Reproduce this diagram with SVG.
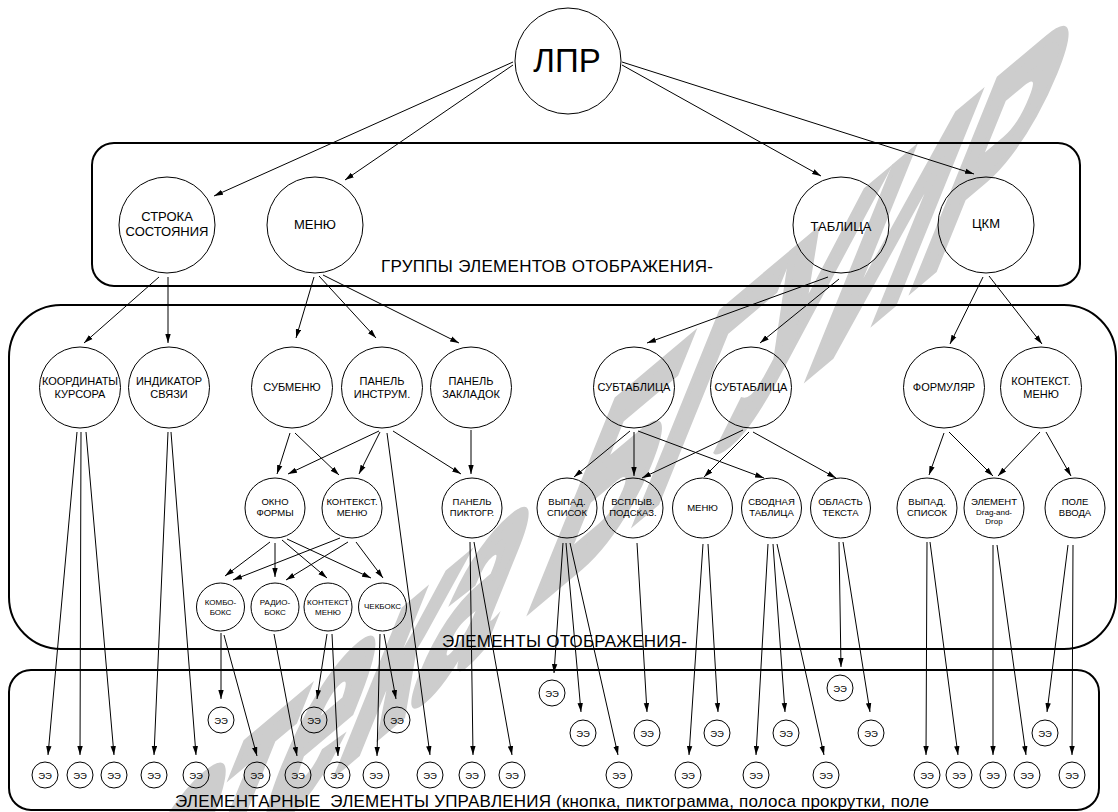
<svg xmlns="http://www.w3.org/2000/svg" width="1118" height="812" viewBox="0 0 1118 812">
<style>
.c{fill:none;stroke:#000;stroke-width:1}
.b{fill:none;stroke:#000;stroke-width:2}
#edges line{stroke:#000;stroke-width:1;marker-end:url(#ah)}
text{font-family:"Liberation Sans",Arial,sans-serif;text-anchor:middle;fill:#000}
.t0{font-size:33px}
.t1{font-size:13px}
.t2{font-size:11px}
.t3{font-size:9.5px}
.t4{font-size:8px}
.te{font-size:9.5px}
.lb{font-size:17px;text-anchor:start}
.wm{font-size:100px;font-weight:bold;text-anchor:start;fill:#cdcdcd;stroke:#cdcdcd;stroke-width:5}
</style>
<defs>
<marker id="ah" viewBox="0 0 10 6" refX="10" refY="3" markerWidth="9" markerHeight="6" markerUnits="userSpaceOnUse" orient="auto"><path d="M0,0 L10,3 L0,6 z" fill="#000"/></marker>
</defs>
<rect width="1118" height="812" fill="#fff"/>
<text class="wm" transform="matrix(1.455 -1.221 -1.199 2.967 -370.6 1364.1)">Библиотека БГУИР</text>

<g id="groups">
<rect class="b" x="92" y="143" width="988" height="143" rx="22"/>
<text class="lb" x="381" y="272" textLength="332">ГРУППЫ ЭЛЕМЕНТОВ ОТОБРАЖЕНИЯ-</text>
<rect class="b" x="9" y="305" width="1107" height="344" rx="52"/>
<text class="lb" x="442" y="647" textLength="245">ЭЛЕМЕНТЫ ОТОБРАЖЕНИЯ-</text>
<rect class="b" x="9" y="670" width="1090" height="140" rx="22"/>
<text class="lb" x="175" y="807" textLength="754">ЭЛЕМЕНТАРНЫЕ&#160; ЭЛЕМЕНТЫ УПРАВЛЕНИЯ (кнопка, пиктограмма, полоса прокрутки, поле</text>
</g>

<g id="edges">
<line x1="513" y1="62" x2="214" y2="196"/>
<line x1="513" y1="65" x2="345" y2="180"/>
<line x1="622" y1="65" x2="821" y2="176"/>
<line x1="622" y1="62" x2="974" y2="174"/>
<line x1="159" y1="277" x2="84" y2="343"/>
<line x1="168" y1="277" x2="168" y2="343"/>
<line x1="314" y1="277" x2="296" y2="338"/>
<line x1="319" y1="276" x2="376" y2="338"/>
<line x1="323" y1="275" x2="459" y2="343"/>
<line x1="828" y1="277" x2="647" y2="343"/>
<line x1="839" y1="279" x2="760" y2="343"/>
<line x1="983" y1="277" x2="950" y2="344"/>
<line x1="989" y1="276" x2="1042" y2="344"/>
<line x1="290" y1="433" x2="277" y2="474"/>
<line x1="295" y1="433" x2="339" y2="475"/>
<line x1="379" y1="431" x2="288" y2="474"/>
<line x1="380" y1="432" x2="359" y2="474"/>
<line x1="393" y1="431" x2="461" y2="474"/>
<line x1="387" y1="433" x2="430" y2="755"/>
<line x1="471" y1="430" x2="471" y2="474"/>
<line x1="630" y1="431" x2="574" y2="477"/>
<line x1="634" y1="432" x2="634" y2="476"/>
<line x1="638" y1="431" x2="764" y2="478"/>
<line x1="743" y1="430" x2="642" y2="478"/>
<line x1="749" y1="432" x2="704" y2="477"/>
<line x1="753" y1="432" x2="836" y2="478"/>
<line x1="944" y1="433" x2="929" y2="475"/>
<line x1="949" y1="432" x2="993" y2="476"/>
<line x1="1040" y1="432" x2="998" y2="476"/>
<line x1="1046" y1="432" x2="1071" y2="476"/>
<line x1="270" y1="542" x2="225" y2="576"/>
<line x1="275" y1="543" x2="275" y2="577"/>
<line x1="282" y1="540" x2="327" y2="578"/>
<line x1="287" y1="539" x2="371" y2="578"/>
<line x1="340" y1="538" x2="233" y2="580"/>
<line x1="348" y1="542" x2="286" y2="580"/>
<line x1="356" y1="542" x2="383" y2="578"/>
<line x1="221" y1="633" x2="221" y2="699"/>
<line x1="224" y1="635" x2="257" y2="756"/>
<line x1="274" y1="634" x2="297" y2="756"/>
<line x1="327" y1="634" x2="317" y2="699"/>
<line x1="332" y1="634" x2="338" y2="756"/>
<line x1="380" y1="634" x2="377" y2="756"/>
<line x1="384" y1="634" x2="396" y2="699"/>
<line x1="77" y1="432" x2="48" y2="755"/>
<line x1="81" y1="432" x2="80" y2="755"/>
<line x1="86" y1="432" x2="114" y2="755"/>
<line x1="168" y1="432" x2="154" y2="755"/>
<line x1="171" y1="432" x2="196" y2="755"/>
<line x1="470" y1="542" x2="473" y2="755"/>
<line x1="474" y1="542" x2="512" y2="755"/>
<line x1="563" y1="543" x2="554" y2="673"/>
<line x1="566" y1="543" x2="581" y2="712"/>
<line x1="570" y1="543" x2="618" y2="755"/>
<line x1="637" y1="543" x2="647" y2="712"/>
<line x1="703" y1="544" x2="689" y2="755"/>
<line x1="708" y1="544" x2="718" y2="712"/>
<line x1="768" y1="544" x2="756" y2="755"/>
<line x1="773" y1="544" x2="785" y2="712"/>
<line x1="777" y1="544" x2="824" y2="755"/>
<line x1="839" y1="542" x2="841" y2="667"/>
<line x1="843" y1="542" x2="870" y2="712"/>
<line x1="927" y1="542" x2="926" y2="755"/>
<line x1="930" y1="542" x2="958" y2="755"/>
<line x1="993" y1="545" x2="993" y2="755"/>
<line x1="997" y1="545" x2="1026" y2="755"/>
<line x1="1068" y1="545" x2="1047" y2="712"/>
<line x1="1073" y1="545" x2="1072" y2="755"/>
</g>

<g id="n-lpr"><circle class="c" cx="568" cy="61" r="53"/><text class="t0" x="567" y="72">ЛПР</text></g>

<g id="n-stroka"><circle class="c" cx="167" cy="225" r="48"/><text class="t1" x="167" y="221">СТРОКА</text><text class="t1" x="167" y="236">СОСТОЯНИЯ</text></g>
<g id="n-menu"><circle class="c" cx="315" cy="225" r="48"/><text class="t1" x="315" y="229">МЕНЮ</text></g>
<g id="n-tablica"><circle class="c" cx="841" cy="225" r="48"/><text class="t1" x="841" y="231">ТАБЛИЦА</text></g>
<g id="n-ckm"><circle class="c" cx="986" cy="225" r="48"/><text class="t1" x="986" y="228">ЦКМ</text></g>

<g id="n-koord"><circle class="c" cx="80" cy="387.5" r="40.5"/><text class="t2" x="80" y="385">КООРДИНАТЫ</text><text class="t2" x="80" y="398">КУРСОРА</text></g>
<g id="n-indik"><circle class="c" cx="169" cy="387.5" r="40.5"/><text class="t2" x="169" y="385">ИНДИКАТОР</text><text class="t2" x="169" y="398">СВЯЗИ</text></g>
<g id="n-submenu"><circle class="c" cx="292" cy="387.5" r="40.5"/><text class="t2" x="292" y="391">СУБМЕНЮ</text></g>
<g id="n-instr"><circle class="c" cx="382" cy="387.5" r="40.5"/><text class="t2" x="382" y="385">ПАНЕЛЬ</text><text class="t2" x="382" y="398">ИНСТРУМ.</text></g>
<g id="n-zakl"><circle class="c" cx="471" cy="387.5" r="40.5"/><text class="t2" x="471" y="385">ПАНЕЛЬ</text><text class="t2" x="471" y="398">ЗАКЛАДОК</text></g>
<g id="n-subt1"><circle class="c" cx="634" cy="387.5" r="40.5"/><text class="t2" x="634" y="391">СУБТАБЛИЦА</text></g>
<g id="n-subt2"><circle class="c" cx="751" cy="387.5" r="40.5"/><text class="t2" x="751" y="391">СУБТАБЛИЦА</text></g>
<g id="n-formular"><circle class="c" cx="944" cy="387.5" r="40.5"/><text class="t2" x="944" y="391">ФОРМУЛЯР</text></g>
<g id="n-kontekst1"><circle class="c" cx="1041" cy="387.5" r="40.5"/><text class="t2" x="1041" y="385">КОНТЕКСТ.</text><text class="t2" x="1041" y="398">МЕНЮ</text></g>

<g id="n-okno"><circle class="c" cx="275" cy="508" r="30"/><text class="t3" x="275" y="505">ОКНО</text><text class="t3" x="275" y="516">ФОРМЫ</text></g>
<g id="n-kontekst2"><circle class="c" cx="352" cy="508" r="30"/><text class="t3" x="352" y="505">КОНТЕКСТ.</text><text class="t3" x="352" y="516">МЕНЮ</text></g>
<g id="n-pikt"><circle class="c" cx="472" cy="508" r="30"/><text class="t3" x="472" y="505">ПАНЕЛЬ</text><text class="t3" x="472" y="516">ПИКТОГР.</text></g>
<g id="n-vypad1"><circle class="c" cx="567" cy="508" r="30"/><text class="t3" x="567" y="505">ВЫПАД.</text><text class="t3" x="567" y="516">СПИСОК</text></g>
<g id="n-vsplyv"><circle class="c" cx="633" cy="508" r="30"/><text class="t3" x="633" y="505">ВСПЛЫВ.</text><text class="t3" x="633" y="516">ПОДСКАЗ.</text></g>
<g id="n-menu3"><circle class="c" cx="702.5" cy="508" r="30"/><text class="t3" x="702.5" y="511">МЕНЮ</text></g>
<g id="n-svod"><circle class="c" cx="771.5" cy="508" r="30"/><text class="t3" x="771.5" y="505">СВОДНАЯ</text><text class="t3" x="771.5" y="516">ТАБЛИЦА</text></g>
<g id="n-oblast"><circle class="c" cx="840.5" cy="508" r="30"/><text class="t3" x="840.5" y="505">ОБЛАСТЬ</text><text class="t3" x="840.5" y="516">ТЕКСТА</text></g>
<g id="n-vypad2"><circle class="c" cx="927" cy="508" r="30"/><text class="t3" x="927" y="505">ВЫПАД.</text><text class="t3" x="927" y="516">СПИСОК</text></g>
<g id="n-dnd"><circle class="c" cx="994" cy="508" r="30"/><text class="t3" x="994" y="505">ЭЛЕМЕНТ</text><text class="t4" x="994" y="514.5">Drag-and-</text><text class="t4" x="994" y="523.5">Drop</text></g>
<g id="n-pole"><circle class="c" cx="1075" cy="508" r="30"/><text class="t3" x="1075" y="505">ПОЛЕ</text><text class="t3" x="1075" y="516">ВВОДА</text></g>

<g id="n-kombo"><circle class="c" cx="220.5" cy="607" r="24"/><text class="t4" x="220.5" y="605">КОМБО-</text><text class="t4" x="220.5" y="615">БОКС</text></g>
<g id="n-radio"><circle class="c" cx="275" cy="607" r="24"/><text class="t4" x="275" y="605">РАДИО-</text><text class="t4" x="275" y="615">БОКС</text></g>
<g id="n-kontekst3"><circle class="c" cx="328" cy="607" r="24"/><text class="t4" x="328" y="605">КОНТЕКСТ</text><text class="t4" x="328" y="615">МЕНЮ</text></g>
<g id="n-chek"><circle class="c" cx="382.5" cy="607" r="24"/><text class="t4" x="382.5" y="609">ЧЕКБОКС</text></g>

<g id="ee">
<g id="ee-1"><circle class="c" cx="45" cy="775" r="13"/><text class="te" x="45" y="778.5">ЭЭ</text></g>
<g id="ee-2"><circle class="c" cx="80" cy="775" r="13"/><text class="te" x="80" y="778.5">ЭЭ</text></g>
<g id="ee-3"><circle class="c" cx="114" cy="775" r="13"/><text class="te" x="114" y="778.5">ЭЭ</text></g>
<g id="ee-4"><circle class="c" cx="154" cy="775" r="13"/><text class="te" x="154" y="778.5">ЭЭ</text></g>
<g id="ee-5"><circle class="c" cx="196" cy="775" r="13"/><text class="te" x="196" y="778.5">ЭЭ</text></g>
<g id="ee-6"><circle class="c" cx="257" cy="775" r="13"/><text class="te" x="257" y="778.5">ЭЭ</text></g>
<g id="ee-7"><circle class="c" cx="298" cy="775" r="13"/><text class="te" x="298" y="778.5">ЭЭ</text></g>
<g id="ee-8"><circle class="c" cx="337" cy="775" r="13"/><text class="te" x="337" y="778.5">ЭЭ</text></g>
<g id="ee-9"><circle class="c" cx="376" cy="775" r="13"/><text class="te" x="376" y="778.5">ЭЭ</text></g>
<g id="ee-10"><circle class="c" cx="430" cy="775" r="13"/><text class="te" x="430" y="778.5">ЭЭ</text></g>
<g id="ee-11"><circle class="c" cx="472" cy="775" r="13"/><text class="te" x="472" y="778.5">ЭЭ</text></g>
<g id="ee-12"><circle class="c" cx="512" cy="775" r="13"/><text class="te" x="512" y="778.5">ЭЭ</text></g>
<g id="ee-13"><circle class="c" cx="619" cy="775" r="13"/><text class="te" x="619" y="778.5">ЭЭ</text></g>
<g id="ee-14"><circle class="c" cx="688" cy="775" r="13"/><text class="te" x="688" y="778.5">ЭЭ</text></g>
<g id="ee-15"><circle class="c" cx="756" cy="775" r="13"/><text class="te" x="756" y="778.5">ЭЭ</text></g>
<g id="ee-16"><circle class="c" cx="826" cy="775" r="13"/><text class="te" x="826" y="778.5">ЭЭ</text></g>
<g id="ee-17"><circle class="c" cx="927" cy="775" r="13"/><text class="te" x="927" y="778.5">ЭЭ</text></g>
<g id="ee-18"><circle class="c" cx="959" cy="775" r="13"/><text class="te" x="959" y="778.5">ЭЭ</text></g>
<g id="ee-19"><circle class="c" cx="993" cy="775" r="13"/><text class="te" x="993" y="778.5">ЭЭ</text></g>
<g id="ee-20"><circle class="c" cx="1027" cy="775" r="13"/><text class="te" x="1027" y="778.5">ЭЭ</text></g>
<g id="ee-21"><circle class="c" cx="1072" cy="775" r="13"/><text class="te" x="1072" y="778.5">ЭЭ</text></g>
<g id="ee-22"><circle class="c" cx="583" cy="733" r="13"/><text class="te" x="583" y="736.5">ЭЭ</text></g>
<g id="ee-23"><circle class="c" cx="647" cy="733" r="13"/><text class="te" x="647" y="736.5">ЭЭ</text></g>
<g id="ee-24"><circle class="c" cx="717" cy="733" r="13"/><text class="te" x="717" y="736.5">ЭЭ</text></g>
<g id="ee-25"><circle class="c" cx="786" cy="733" r="13"/><text class="te" x="786" y="736.5">ЭЭ</text></g>
<g id="ee-26"><circle class="c" cx="871" cy="733" r="13"/><text class="te" x="871" y="736.5">ЭЭ</text></g>
<g id="ee-27"><circle class="c" cx="1045" cy="733" r="13"/><text class="te" x="1045" y="736.5">ЭЭ</text></g>
<g id="ee-28"><circle class="c" cx="221" cy="720" r="13"/><text class="te" x="221" y="723.5">ЭЭ</text></g>
<g id="ee-29"><circle class="c" cx="314" cy="720" r="13"/><text class="te" x="314" y="723.5">ЭЭ</text></g>
<g id="ee-30"><circle class="c" cx="397" cy="720" r="13"/><text class="te" x="397" y="723.5">ЭЭ</text></g>
<g id="ee-31"><circle class="c" cx="552" cy="693" r="13"/><text class="te" x="552" y="696.5">ЭЭ</text></g>
<g id="ee-32"><circle class="c" cx="840" cy="688" r="13"/><text class="te" x="840" y="691.5">ЭЭ</text></g>
</g>
</svg>
